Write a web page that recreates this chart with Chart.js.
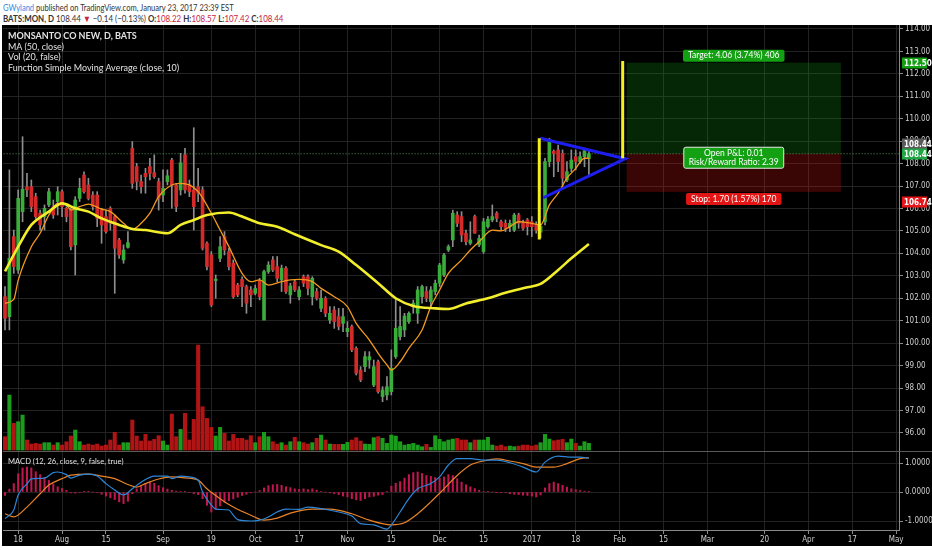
<!DOCTYPE html>
<html>
<head>
<meta charset="utf-8">
<script src="https://cdn.jsdelivr.net/npm/chart.js@4/dist/chart.umd.min.js"></script>
<style>
html, body { margin: 0; padding: 0; background: #fff; width: 932px; height: 550px; overflow: hidden; }
.hdr { position: absolute; left: 3px; font-family: Lato, 'Open Sans', sans-serif; font-size: 9px; color: #333; white-space: nowrap; transform-origin: 0 0; }
.hdr .r { color: #c8233f; }
#panel { position: absolute; left: 2px; top: 25px; width: 930px; height: 521px; background: #000; }
#c { position: absolute; left: 0; top: 0; }
.lg { position: absolute; left: 6px; font-family: Lato, 'Open Sans', sans-serif; font-size: 9px; color: #e2e2e2; white-space: nowrap; line-height: 10.7px; transform-origin: 0 0; }
</style>
</head>
<body>
<div class="hdr" style="top:2px;transform:scaleX(0.84)"><span style="color:#2f8de4">GWyland</span> published on TradingView.com, January 23, 2017 23:39 EST</div>
<div class="hdr" style="top:13px;transform:scaleX(0.88)"><b>BATS:MON, D</b> 108.44 <span class="r">&#9660;</span> &minus;0.14 (&minus;0.13%) <b>O:</b><span class="r">108.22</span> <b>H:</b><span class="r">108.57</span> <b>L:</b><span class="r">107.42</span> <b>C:</b><span class="r">108.44</span></div>
<div id="panel">
  <canvas id="c" width="930" height="521"></canvas>
  <div class="lg" style="top:6px"><b>MONSANTO CO NEW, D, BATS</b><br>MA (50, close)<br>Vol (20, false)<br>Function Simple Moving Average (close, 10)</div>
  <div class="lg" style="top:431px;font-size:8px;transform:scaleX(0.95)">MACD (12, 26, close, 9, false, true)</div>
</div>
<script>
// daily bars, Jul 13 2016 .. Jan 23 2017 (index = trading day)
const open = [102.07,101.18,104.75,103.26,105.86,106.97,106.97,106.53,105.79,105.64,
  106.16,106.08,106.31,106.75,106.01,105.93,104.38,106.45,107.49,107.05,
  106.6,106.6,105.93,105.64,106.01,105.64,104.6,103.71,104.27,108.68,
  107.87,107.2,107.57,107.87,107.6,107.2,106.6,107.2,108.16,107.05,
  106.83,108.39,107.05,106.83,106.97,106.83,104.45,103.93,102.79,103.78,
  104.75,104.08,103.56,102.59,102.84,102.52,102.37,102.22,102.79,101.03,
  103.19,103.71,103.41,102.82,103.34,102.15,102.74,102.07,102.96,102.96,
  102.07,102.3,101.55,101.99,101.03,101.48,101.18,100.88,100.51,100.74,
  99.77,98.8,98.95,99.25,98.13,99.17,97.62,97.69,97.84,99.4,
  100.29,100.59,100.96,101.63,101.33,102.07,102.3,101.85,102.3,102.67,
  103.04,104.15,104.6,105.71,105.64,104.9,104.45,105.64,104.38,104.08,
  105.19,105.49,105.79,105.41,105.34,105.19,105.04,105.71,105.34,105.49,
  105.41,105.27,104.95,105.41,108.09,108.55,108.61,108.46,107.27,107.79,
  108.31,108.09,108.31,108.22];
const high = [102.52,107.72,105.04,106.83,109.2,107.57,107.27,106.68,105.93,106.16,
  106.9,106.38,106.97,106.83,106.08,106.01,106.53,107.35,107.64,107.35,
  106.75,106.75,106.01,105.93,106.08,105.71,104.67,104.38,104.97,108.98,
  108.01,107.49,107.79,108.24,108.39,107.35,107.72,107.72,108.24,107.12,
  108.46,108.68,107.27,109.6,107.79,106.97,104.52,104.08,103.04,104.75,
  104.97,104.23,103.71,102.67,102.96,102.59,102.52,102.59,102.89,103.26,
  103.63,103.86,103.86,103.48,103.41,102.67,102.82,102.52,103.04,103.04,
  102.96,102.44,102.37,102.07,101.63,101.63,101.55,101.55,100.96,100.81,
  99.84,98.95,99.62,99.62,99.25,99.25,98.06,98.51,99.7,101.98,
  101.63,101.33,101.4,101.92,102.52,102.59,102.52,102.52,102.81,103.56,
  104.0,104.38,105.93,105.86,105.86,105.04,105.41,105.71,104.82,105.56,
  105.64,106.16,105.86,105.49,105.49,105.49,105.79,105.79,105.49,105.56,
  105.64,105.41,105.3,108.24,109.13,108.61,108.83,108.61,108.09,108.61,
  108.61,108.53,108.68,108.57];
const low = [100.59,100.59,103.11,103.11,105.41,106.53,105.86,105.56,105.04,105.04,
  106.08,105.56,105.71,105.64,105.41,104.15,103.04,106.31,106.68,106.38,
  105.93,105.19,104.45,104.9,105.04,102.22,103.78,103.56,104.23,106.9,
  106.83,106.68,106.68,107.27,107.35,105.93,106.31,107.05,106.01,105.86,
  106.6,106.68,106.53,105.04,106.31,104.15,103.26,101.63,102.0,103.63,
  103.93,103.26,102.0,102.07,101.63,101.33,101.63,102.15,101.93,101.03,
  103.11,103.19,102.74,102.3,102.22,101.78,102.3,101.93,102.52,102.15,
  101.7,101.92,101.4,101.18,100.88,100.66,100.59,100.51,100.29,99.62,
  98.58,98.28,98.73,98.88,98.06,97.77,97.39,97.47,97.69,99.32,
  100.14,100.29,100.88,101.33,100.88,101.78,101.85,101.63,102.15,102.52,
  102.96,104.08,104.3,105.19,104.52,104.38,104.38,104.9,104.3,104.0,
  105.12,105.41,105.41,105.04,104.97,104.97,104.97,105.12,105.04,104.82,
  104.75,104.9,104.7,105.27,107.86,107.42,107.64,106.9,107.2,107.64,
  107.72,108.01,107.86,107.42];
const close = [101.11,103.78,103.41,106.45,106.86,106.83,106.08,105.64,105.27,106.01,
  106.75,105.71,106.75,106.08,105.64,104.3,106.38,106.9,106.75,106.45,
  106.08,105.56,105.27,104.97,105.34,104.23,103.93,104.15,104.48,107.12,
  107.2,106.97,107.42,107.57,107.42,106.45,106.9,107.46,107.05,106.08,
  108.04,106.83,106.75,106.08,106.68,104.23,103.41,101.7,102.85,104.3,
  104.15,103.41,102.07,102.15,102.52,101.78,102.15,102.44,102.07,103.19,
  103.48,103.26,102.89,103.34,102.3,102.55,102.37,102.37,102.67,102.44,
  102.89,102.0,102.0,101.33,101.33,100.96,100.74,101.18,100.66,99.7,
  98.66,98.36,99.4,99.4,98.95,97.84,97.91,98.06,98.88,100.66,
  100.74,101.21,101.33,101.78,102.37,102.52,102.0,102.37,102.67,103.48,
  103.93,104.3,105.79,105.34,104.82,104.52,104.6,104.9,104.67,105.41,
  105.52,105.64,105.56,105.19,105.12,105.34,105.71,105.34,105.12,105.19,
  105.19,105.04,105.2,108.09,109.05,108.45,108.09,107.35,107.64,108.16,
  108.09,108.31,108.58,108.44];
// volume, millions
const volume = [3.05,12.57,6.10,6.48,8.0,2.29,1.37,1.52,1.37,1.68,
  1.68,1.14,1.68,1.14,1.90,3.2,4.57,1.90,1.14,1.37,
  1.14,1.37,0.91,1.14,2.29,4.04,1.14,1.68,1.68,6.86,
  3.2,2.06,3.58,2.06,2.44,3.28,2.06,1.14,8.23,3.05,
  4.72,8.38,2.29,7.01,24.0,9.9,7.24,5.18,3.2,5.18,
  3.81,2.06,3.58,2.67,2.67,2.29,3.28,1.68,3.05,4.04,
  3.05,1.9,1.37,1.68,1.14,1.9,2.9,1.9,1.68,1.37,
  1.68,2.67,3.43,2.29,1.37,1.3,1.3,1.3,1.75,2.29,
  2.82,2.06,1.37,1.3,2.82,3.05,2.67,1.52,3.43,3.2,
  1.9,1.14,1.3,1.52,1.14,0.76,1.3,0.61,3.28,2.44,
  1.9,2.29,2.51,2.67,2.29,2.29,1.68,2.29,2.29,2.29,
  2.9,1.14,0.91,1.14,0.76,0.91,0.76,0.91,1.14,1.14,
  0.91,1.14,1.68,3.58,2.51,2.13,2.29,2.44,1.68,2.51,
  1.52,0.91,1.9,1.52];

// moving averages, read at selected bars
const ma50Bars = [0,3,6,10,13,16,19,22,26,29,32,37,40,43,46,51,54,58,62,66,72,76,80,85,89,93,98,101,105,110,114,119,122,126,129,133];
const ma50 = [103.2,104.3,105.27,105.86,106.23,106.01,105.86,105.56,105.27,105.09,105.04,104.9,105.27,105.49,105.71,105.82,105.64,105.34,105.19,104.85,104.37,104.08,103.48,102.67,102.0,101.66,101.55,101.52,101.77,102.0,102.25,102.49,102.64,103.26,103.78,104.42];
const sma10Bars = [0,2,3,6,8,10,12,14,15,17,19,22,24,27,29,31,33,35,38,40,42,44,47,49,51,54,56,58,60,63,65,67,70,72,75,78,80,83,85,87,88,90,92,95,97,99,101,104,106,108,111,113,115,117,120,122,124,126,128,130,132,133];
const sma10 = [101.78,101.95,102.8,104.3,104.9,105.71,106.23,106.16,105.93,106.08,106.2,105.97,105.86,105.34,105.07,105.34,105.79,106.53,107.05,107.12,107.05,106.75,105.79,105.04,104.3,103.11,102.74,102.82,102.59,102.74,102.82,102.84,102.74,102.44,102.07,101.63,100.88,100.14,99.55,99.03,98.8,99.17,99.77,100.59,101.63,102.37,103.11,103.71,104.15,104.52,105.04,105.0,105.19,105.41,105.34,105.27,106.16,106.68,107.35,107.79,108.24,108.24];

// MACD (12, 26, 9)
const macdBars = [0,2,3,5,6,9,11,12,14,15,17,19,21,23,25,27,29,31,34,37,38,40,42,44,45,47,48,51,52,53,56,58,60,62,64,67,69,72,76,79,81,84,87,88,90,92,94,97,99,101,103,106,109,112,115,118,121,123,126,129,131,133];
const macd = [-0.92,-0.62,-0.1,0.28,0.45,0.48,0.67,0.69,0.6,0.48,0.58,0.62,0.55,0.29,0.07,-0.1,0.11,0.34,0.55,0.55,0.46,0.55,0.52,0.41,0.0,-0.45,-0.59,-0.62,-0.8,-0.95,-1.0,-0.97,-0.86,-0.69,-0.59,-0.6,-0.52,-0.57,-0.69,-0.83,-1.09,-1.13,-1.28,-1.14,-0.69,-0.23,0.11,0.29,0.52,0.93,1.15,1.15,1.1,1.1,1.01,0.86,0.69,1.03,1.24,1.2,1.2,1.17];
const signalBars = [0,2,5,8,10,13,15,19,22,25,28,30,32,35,38,41,44,46,49,52,56,59,62,65,70,74,79,83,88,91,94,97,100,103,106,109,112,115,118,121,125,128,131,133];
const signal = [-0.75,-0.86,-0.52,-0.06,0.24,0.46,0.58,0.62,0.55,0.46,0.26,0.17,0.29,0.45,0.52,0.49,0.41,0.11,-0.23,-0.52,-0.8,-0.97,-0.9,-0.73,-0.59,-0.59,-0.75,-0.97,-1.13,-1.06,-0.75,-0.34,0.11,0.57,0.93,1.07,1.14,1.07,0.98,0.86,0.86,0.98,1.15,1.18];
const hist = [-0.12,0.1,0.29,0.63,0.83,0.86,0.83,0.7,0.6,0.5,
  0.4,0.28,0.18,0.12,0.06,-0.03,-0.04,-0.02,0.01,0.01,
  0.0,-0.02,-0.08,-0.14,-0.2,-0.26,-0.34,-0.4,-0.32,-0.06,
  0.11,0.22,0.29,0.34,0.3,0.22,0.15,0.1,0.06,0.03,
  0.02,0.01,-0.02,-0.06,-0.09,-0.23,-0.46,-0.69,-0.6,-0.48,
  -0.36,-0.3,-0.24,-0.18,-0.12,-0.08,-0.03,0.0,0.05,0.14,
  0.22,0.25,0.26,0.23,0.18,0.15,0.11,0.09,0.11,0.08,
  0.11,0.06,0.02,0.0,-0.03,-0.06,-0.09,-0.14,-0.17,-0.23,
  -0.27,-0.29,-0.23,-0.17,-0.15,-0.11,-0.09,0.02,0.2,0.3,
  0.36,0.48,0.6,0.67,0.69,0.64,0.57,0.54,0.5,0.48,
  0.52,0.6,0.57,0.46,0.34,0.25,0.18,0.12,0.06,0.02,
  0.01,0.0,-0.01,-0.01,-0.02,-0.06,-0.08,-0.09,-0.11,-0.12,
  -0.14,-0.17,-0.1,0.14,0.29,0.34,0.29,0.23,0.17,0.11,
  0.08,0.05,0.03,0.01];

// time axis
const tickIdx = [3,13,23,36,47,57,67,78,88,99,109,120,130,140,150,160,173,183,193,203];
const tickLabels = ['18','Aug','15','Sep','19','Oct','17','Nov','15','Dec','15','2017','18','Feb','15','Mar','20','Apr','17','May'];

// drawings: flag pole, pennant, long position
const pole1 = [[121.7, 109.13], [121.7, 104.62]];
const pole2 = [[140.7, 112.57], [140.7, 108.24]];
const pennant = [[121.9, 109.13], [141.3, 108.22], [122.6, 106.48]];
const posFrom = 141.6, posTo = 190.4;
const targetPrice = 112.50, entryPrice = 108.44, stopPrice = 106.74;
const lastPrice = 108.44;

const axisFont = { family: "'Liberation Sans Narrow', 'DejaVu Sans Condensed', 'Arial Narrow', sans-serif", size: 8 };
const gridColor = '#232323';
const axisColor = '#8a8a8a';
const up = (i) => close[i] >= open[i];

const pts = (xs, ys) => xs.map((x, k) => ({ x: x, y: ys[k] }));
const pairs = (a) => a.map(p => ({ x: p[0], y: p[1] }));
const bars = close.map((c, i) => i);

// keep the panes flush with the canvas edges
const noPad = (s) => { s.paddingTop = 0; s.paddingBottom = 0; s.paddingLeft = 0; s.paddingRight = 0; };

function pill(ctx, lines, cx, cy, fill, stroke) {
  ctx.font = "8.5px Lato, 'Open Sans', sans-serif";
  const w = Math.max(...lines.map(t => ctx.measureText(t).width)) + 10;
  const h = lines.length * 9 + 3;
  ctx.beginPath();
  ctx.roundRect(cx - w / 2, cy - h / 2, w, h, 2);
  ctx.fillStyle = fill;
  ctx.fill();
  if (stroke) { ctx.strokeStyle = stroke; ctx.lineWidth = 1; ctx.stroke(); }
  ctx.fillStyle = '#fff';
  ctx.textAlign = 'center';
  ctx.textBaseline = 'middle';
  lines.forEach((t, k) => ctx.fillText(t, cx, cy - h / 2 + 6 + k * 9));
}

const tvPlugin = {
  id: 'tv',
  beforeDatasetsDraw(chart) {
    const { ctx, scales: { x, y } } = chart;
    const l = x.getPixelForValue(posFrom), r = x.getPixelForValue(posTo);
    const t = y.getPixelForValue(targetPrice), e = y.getPixelForValue(entryPrice), s = y.getPixelForValue(stopPrice);
    ctx.save();
    ctx.fillStyle = 'rgba(24,150,24,0.26)';
    ctx.fillRect(l, t, r - l, e - t);
    ctx.fillStyle = 'rgba(210,20,20,0.27)';
    ctx.fillRect(l, e, r - l, s - e);
    ctx.restore();
  },
  afterDatasetsDraw(chart) {
    const { ctx, scales: { x, y, m } } = chart;
    const l = x.getPixelForValue(posFrom), r = x.getPixelForValue(posTo);
    const cx = (l + r) / 2;
    ctx.save();
    pill(ctx, ['Target: 4.06 (3.74%) 406'], cx, y.getPixelForValue(targetPrice) - 7, '#13a013');
    pill(ctx, ['Open P&L: 0.01', 'Risk/Reward Ratio: 2.39'], cx, y.getPixelForValue(entryPrice) + 4, '#13a013', '#e8e8e8');
    pill(ctx, ['Stop: 1.70 (1.57%) 170'], cx, y.getPixelForValue(stopPrice) + 7, '#e31414');
    // pane separator
    ctx.strokeStyle = '#5a5a5a';
    ctx.lineWidth = 1;
    ctx.beginPath();
    ctx.moveTo(chart.chartArea.left, Math.round(m.top) + 0.5);
    ctx.lineTo(chart.width, Math.round(m.top) + 0.5);
    ctx.stroke();
    ctx.restore();
  },
  afterDraw(chart) {
    const { ctx, scales: { y } } = chart;
    const tags = [
      [targetPrice, '#12a012', 0],
      [entryPrice, '#5b5b5b', -10],
      [lastPrice, '#22a544', 0],
      [stopPrice, '#e8161b', 10]
    ];
    ctx.save();
    ctx.font = "bold 8px " + axisFont.family;
    ctx.textBaseline = 'middle';
    ctx.textAlign = 'left';
    tags.forEach(([v, col, dy]) => {
      const py = Math.round(y.getPixelForValue(v)) + dy;
      ctx.fillStyle = col;
      ctx.fillRect(y.left + 3, py - 5.5, 25, 11);
      ctx.fillStyle = '#fff';
      ctx.fillText(v.toFixed(2), y.left + 5, py + 0.5);
    });
    ctx.restore();
  }
};

const vMax = Math.max(...volume);

new Chart(document.getElementById('c'), {
  type: 'bar',
  data: {
    datasets: [
      { label: 'Vol', yAxisID: 'v', order: 100, grouped: false, barThickness: 3.4,
        data: pts(bars, volume),
        backgroundColor: (c) => up(c.dataIndex) ? '#1c9c1c' : '#b01414' },
      { type: 'line', label: 'last', yAxisID: 'y', order: 95, data: [{ x: -1, y: lastPrice }, { x: 210, y: lastPrice }],
        borderColor: 'rgba(95,175,95,0.85)', borderWidth: 1, borderDash: [1, 2], pointRadius: 0 },
      { label: 'Hist', yAxisID: 'm', order: 90, grouped: false, barThickness: 1.4,
        data: pts(bars, hist), backgroundColor: '#c0174f' },
      { label: 'wick', yAxisID: 'y', order: 80, grouped: false, barThickness: 1,
        data: bars.map(i => ({ x: i, y: [low[i], high[i]] })), backgroundColor: '#8e8e8e' },
      { label: 'body', yAxisID: 'y', order: 70, grouped: false, barThickness: 3, minBarLength: 1,
        data: bars.map(i => ({ x: i, y: [open[i], close[i]] })),
        backgroundColor: (c) => up(c.dataIndex) ? '#3aad3a' : '#d42a2a' },
      { type: 'line', label: 'SMA10', yAxisID: 'y', order: 60, data: pts(sma10Bars, sma10),
        borderColor: '#f39a1e', borderWidth: 1.3, pointRadius: 0, cubicInterpolationMode: 'monotone' },
      { type: 'line', label: 'MA50', yAxisID: 'y', order: 50, data: pts(ma50Bars, ma50),
        borderColor: '#f2ee2c', borderWidth: 2.6, pointRadius: 0, cubicInterpolationMode: 'monotone' },
      { type: 'line', label: 'Signal', yAxisID: 'm', order: 46, data: pts(signalBars, signal),
        borderColor: '#e8832a', borderWidth: 1.2, pointRadius: 0, cubicInterpolationMode: 'monotone' },
      { type: 'line', label: 'MACD', yAxisID: 'm', order: 45, data: pts(macdBars, macd),
        borderColor: '#2e86d6', borderWidth: 1.2, pointRadius: 0, cubicInterpolationMode: 'monotone' },
      { type: 'line', label: 'pennant', yAxisID: 'y', order: 30, data: pairs(pennant),
        borderColor: '#1e1ef0', borderWidth: 3, pointRadius: 0 },
      { type: 'line', label: 'pole1', yAxisID: 'y', order: 20, data: pairs(pole1),
        borderColor: '#f4ee1c', borderWidth: 3, pointRadius: 0 },
      { type: 'line', label: 'pole2', yAxisID: 'y', order: 20, data: pairs(pole2),
        borderColor: '#f4ee1c', borderWidth: 3, pointRadius: 0 }
    ]
  },
  options: {
    responsive: false,
    animation: false,
    layout: { padding: { left: 1, top: 0, right: 0, bottom: 0 } },
    plugins: { legend: { display: false }, tooltip: { enabled: false } },
    scales: {
      x: {
        type: 'linear', min: -0.456, max: 203.64, offset: false,
        afterFit: (s) => { s.height = 16; noPad(s); },
        afterBuildTicks: (s) => { s.ticks = tickIdx.map(v => ({ value: v })); },
        ticks: { autoSkip: false, maxRotation: 0, color: '#cfcfcf', font: axisFont, padding: 1,
          callback: (v, i) => tickLabels[i] },
        grid: { offset: false, color: gridColor, tickColor: axisColor, tickLength: 4 },
        border: { color: axisColor }
      },
      y: {
        position: 'right', stack: 'pane', stackWeight: 426,
        min: 95.194, max: 114.178,
        afterFit: (s) => { s.width = 33; noPad(s); },
        ticks: { stepSize: 1, includeBounds: false, autoSkip: false, maxTicksLimit: 40, color: '#cfcfcf', font: axisFont, padding: 2,
          callback: (v) => v.toFixed(2) },
        grid: { color: gridColor, tickColor: axisColor, tickLength: 4 },
        border: { color: axisColor }
      },
      m: {
        position: 'right', stack: 'pane', stackWeight: 79,
        min: -1.31, max: 1.414,
        afterFit: (s) => { s.width = 33; noPad(s); },
        ticks: { stepSize: 1, includeBounds: false, autoSkip: false, color: '#cfcfcf', font: axisFont, padding: 2,
          callback: (v) => v.toFixed(4) },
        grid: { color: gridColor, tickColor: axisColor, tickLength: 4 },
        border: { color: axisColor }
      },
      v: { display: false, min: -vMax * 0.762, max: vMax * 4.05 }
    }
  },
  plugins: [tvPlugin]
});
</script>
</body>
</html>
